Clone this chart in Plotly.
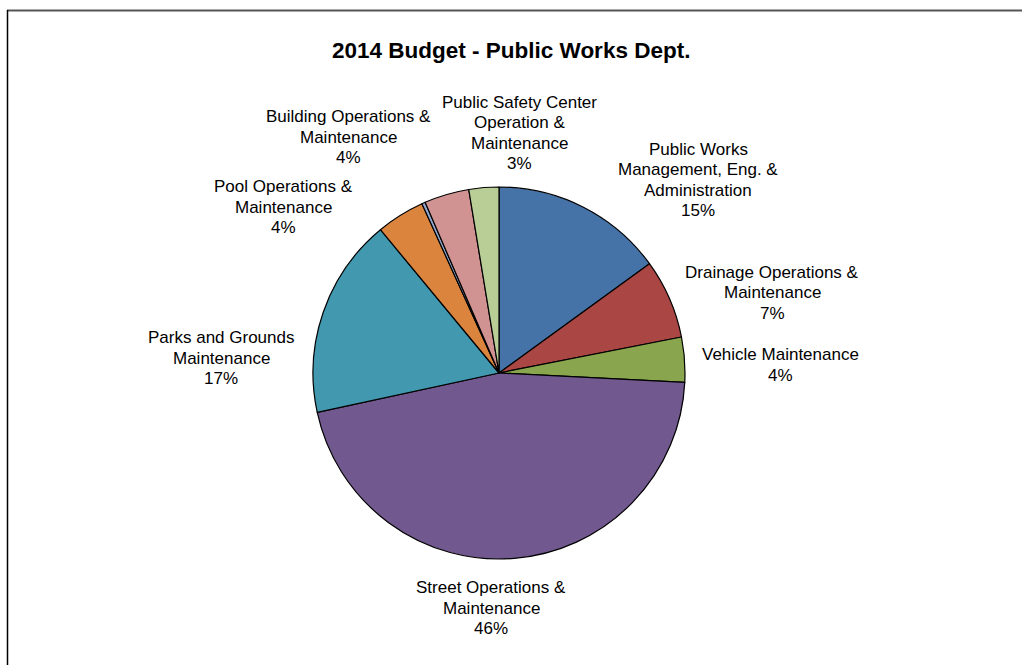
import plotly.graph_objects as go

# Budget shares by division (percent of total), clockwise from 12 o'clock
divisions = [
    "Public Works<br>Management, Eng. &<br>Administration",
    "Drainage Operations &<br>Maintenance",
    "Vehicle Maintenance",
    "Street Operations &<br>Maintenance",
    "Parks and Grounds<br>Maintenance",
    "Pool Operations &<br>Maintenance",
    "Other",
    "Building Operations &<br>Maintenance",
    "Public Safety Center<br>Operation &<br>Maintenance",
]
shares = [15.0, 6.9, 3.9, 45.8, 17.4, 4.2, 0.3, 3.9, 2.6]
show_label = [True, True, True, True, True, True, False, True, True]

colors = ["#4572A7", "#AA4643", "#89A54E", "#71588F", "#4198AF",
          "#DB843D", "#93A9CF", "#D19392", "#B9CD96"]

# Label block centres (pixels in the 1022x665 canvas)
label_xy = [(698, 180), (772, 293), (780, 365), (491, 608), (221, 358),
            (283, 207), (0, 0), (348, 137), (519, 133)]
LINE_GAP = 20.5
FONT = "Liberation Sans, Arial, sans-serif"

W, H = 1022, 665
cx, cy, r = 499, 373, 186

fig = go.Figure(go.Pie(
    labels=[d.replace("<br>", " ") for d in divisions],
    values=shares,
    sort=False,
    direction="clockwise",
    rotation=0,
    textinfo="none",
    marker=dict(colors=colors, line=dict(color="#000000", width=1.2)),
    domain=dict(x=[(cx - r) / W, (cx + r) / W],
                y=[(H - cy - r) / H, (H - cy + r) / H]),
    showlegend=False,
))

total = sum(shares)
annotations = []
for name, v, show, (lx, ly) in zip(divisions, shares, show_label, label_xy):
    if not show:
        continue
    pct = round(v / total * 100)
    lines = name.split("<br>") + [f"{pct}%"]
    n = len(lines)
    for i, line in enumerate(lines):
        y = ly + (i - (n - 1) / 2) * LINE_GAP
        annotations.append(dict(
            x=lx / W, y=1 - y / H, xref="paper", yref="paper",
            xanchor="center", yanchor="middle", showarrow=False,
            text=line,
            font=dict(family=FONT, size=17, color="#000000"),
        ))

annotations.append(dict(
    x=511 / W, y=1 - 50 / H, xref="paper", yref="paper",
    xanchor="center", yanchor="middle", showarrow=False,
    text="<b>2014 Budget - Public Works Dept.</b>",
    font=dict(family=FONT, size=22.5, color="#000000"),
))

shapes = [
    dict(type="line", xref="paper", yref="paper",
         x0=7 / W, x1=1.0, y0=1 - 10.5 / H, y1=1 - 10.5 / H,
         line=dict(color="#555555", width=2)),
    dict(type="line", xref="paper", yref="paper",
         x0=7.5 / W, x1=7.5 / W, y0=0, y1=1 - 10 / H,
         line=dict(color="#000000", width=1.5)),
]

fig.update_layout(
    width=W, height=H,
    margin=dict(l=0, r=0, t=0, b=0),
    paper_bgcolor="#FFFFFF",
    plot_bgcolor="#FFFFFF",
    annotations=annotations,
    shapes=shapes,
)

fig.write_html("out.html")
